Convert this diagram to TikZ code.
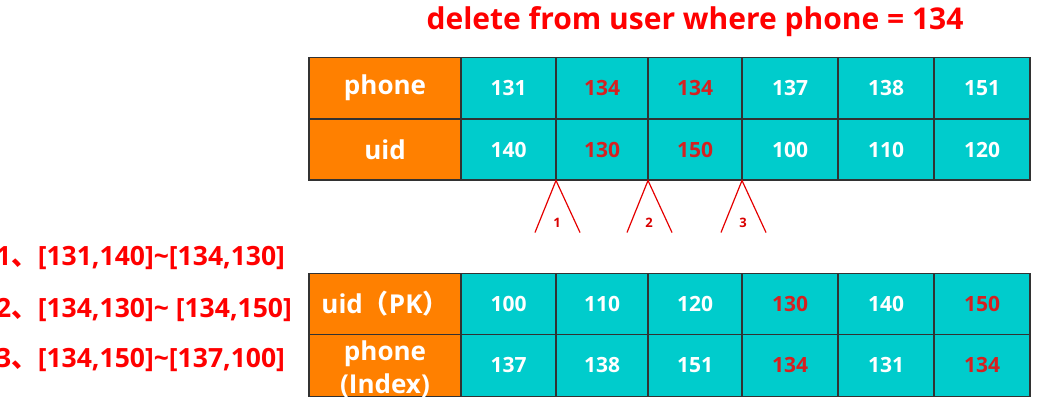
\documentclass[tikz,border=0pt]{standalone}
\usepackage{fontspec}
\setmainfont{Open Sans}
\newfontfamily\cjk{Noto Sans CJK SC}
\definecolor{teal}{RGB}{0,204,204}
\definecolor{orng}{RGB}{255,128,0}
\definecolor{celred}{RGB}{214,32,32}
\definecolor{brd}{RGB}{50,50,50}
\definecolor{brightred}{RGB}{255,0,0}
\tikzset{
  cell/.style={draw=brd, line width=1.3pt, fill=teal, inner sep=0pt, text=white, font=\fontsize{21}{23}\selectfont\bfseries},
  hdr/.style={draw=brd, line width=1.3pt, fill=orng, inner sep=0pt, text=white, font=\fontsize{26}{33}\selectfont\bfseries, align=center},
  hot/.style={text=celred},
  leg/.style={draw=red!90!black, line width=1.2pt},
  legnum/.style={text=red!85!black, font=\fontsize{13}{14}\selectfont\bfseries, inner sep=0pt},
  listtxt/.style={text=brightred, font=\fontsize{26.5}{28}\selectfont\bfseries, anchor=base west, inner sep=0pt},
}
\begin{document}
\begin{tikzpicture}[x=1pt,y=-1pt]
\useasboundingbox (0,0) rectangle (1051,415);
% title
\node[text=brightred, font=\fontsize{30}{32}\selectfont\bfseries, anchor=base, inner sep=0pt] (title) at (695,29) {delete from user where phone = 134};
% top table
\node[hdr, minimum width=152pt, minimum height=62pt] (tph) at (385,88.2) {phone};
\node[hdr, minimum width=152pt, minimum height=61pt] (tuid) at (385,149.6) {uid};
\foreach \xa/\xb/\p/\u/\hp [count=\i] in {461/556/131/140/0, 556/648/134/130/1, 648/742/134/150/1, 742/838/137/100/0, 838/934/138/110/0, 934/1030/151/120/0}{
  \pgfmathsetmacro{\w}{\xb-\xa}
  \pgfmathsetmacro{\cx}{(\xa+\xb)/2}
  \ifnum\hp=1
    \node[cell, hot, minimum width=\w pt, minimum height=62pt] (tp\i) at (\cx,88.2) {\p};
    \node[cell, hot, minimum width=\w pt, minimum height=61pt] (tu\i) at (\cx,149.6) {\u};
  \else
    \node[cell, minimum width=\w pt, minimum height=62pt] (tp\i) at (\cx,88.2) {\p};
    \node[cell, minimum width=\w pt, minimum height=61pt] (tu\i) at (\cx,149.6) {\u};
  \fi
}
% bottom table
\node[hdr, minimum width=152pt, minimum height=61pt] (bpk) at (385,303.8) {uid{\cjk （}PK{\cjk ）}};
\node[hdr, minimum width=152pt, minimum height=62pt] (bix) at (385,365.2) {};
\node[text=white, font=\fontsize{26}{33}\selectfont\bfseries, align=center, inner sep=0pt] (bixt) at (385,369) {phone\\(Index)};
\foreach \xa/\xb/\u/\p/\hp [count=\i] in {461/556/100/137/0, 556/648/110/138/0, 648/742/120/151/0, 742/838/130/134/1, 838/934/140/131/0, 934/1030/150/134/1}{
  \pgfmathsetmacro{\w}{\xb-\xa}
  \pgfmathsetmacro{\cx}{(\xa+\xb)/2}
  \ifnum\hp=1
    \node[cell, hot, minimum width=\w pt, minimum height=61pt] (bu\i) at (\cx,303.8) {\u};
    \node[cell, hot, minimum width=\w pt, minimum height=62pt] (bp\i) at (\cx,365.2) {\p};
  \else
    \node[cell, minimum width=\w pt, minimum height=61pt] (bu\i) at (\cx,303.8) {\u};
    \node[cell, minimum width=\w pt, minimum height=62pt] (bp\i) at (\cx,365.2) {\p};
  \fi
}
% split markers
\foreach \ax/\n in {556/1, 648/2, 742/3}{
  \coordinate (apex\n) at (\ax,180.5);
  \coordinate (lf\n) at (\ax-21,232.5);
  \coordinate (rf\n) at (\ax+24,232.5);
  \draw[leg] (lf\n) -- (apex\n) -- (rf\n);
  \node[legnum] (num\n) at (\ax+1,223) {\n};
}
% list
\node[listtxt] (l1) at (-4,265) {1{\cjk 、}[131,140]\textasciitilde[134,130]};
\node[listtxt] (l2) at (-4,317) {2{\cjk 、}[134,130]\textasciitilde{} [134,150]};
\node[listtxt] (l3) at (-4,367) {3{\cjk 、}[134,150]\textasciitilde[137,100]};
\end{tikzpicture}
\end{document}
